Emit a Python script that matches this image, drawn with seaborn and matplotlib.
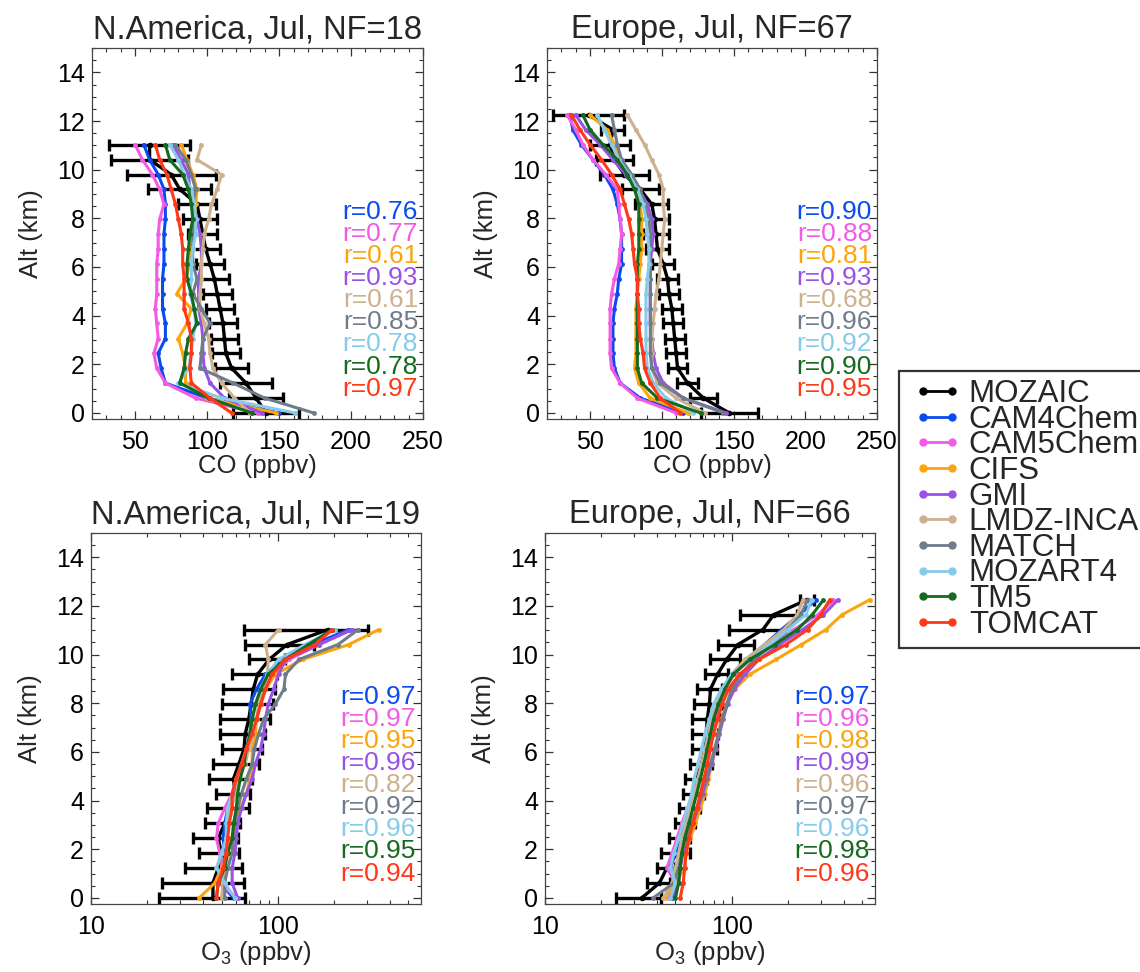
import numpy as np
import pandas as pd
import matplotlib
matplotlib.use("Agg")
import matplotlib.pyplot as plt
import seaborn as sns
from matplotlib.lines import Line2D
from matplotlib.legend_handler import HandlerLine2D
from matplotlib.ticker import MultipleLocator, FixedLocator, NullFormatter, FixedFormatter

# ---------------- data ----------------
MODELS = ["CAM4Chem", "CAM5Chem", "CIFS", "GMI", "LMDZ-INCA", "MATCH", "MOZART4", "TM5", "TOMCAT"]
COLORS = ["#0A4BF0", "#F35BE6", "#FBA40C", "#9852E6", "#CDB08E", "#6F7C8C", "#86CBEA", "#146A1E", "#FF3818"]

ALT_NA = [0.0, 0.61, 1.23, 1.84, 2.45, 3.06, 3.68, 4.29, 4.90, 5.51, 6.13, 6.74, 7.35, 7.96, 8.58, 9.19, 9.80, 10.41, 11.03]
ALT_EU = [0.0, 0.61, 1.23, 1.84, 2.45, 3.06, 3.68, 4.29, 4.90, 5.51, 6.13, 6.74, 7.35, 7.96, 8.58, 9.19, 9.80, 10.41, 11.03, 11.64, 12.25]

# CO, N.America
CO_NA_MOZAIC = [141, 134, 127, 117, 113, 112, 111, 109, 107, 105, 102, 99, 97, 95, 93, 81, 75, 60, 60]
CO_NA_MOZAIC_SD = [23, 19, 18, 11.5, 9.5, 9.5, 10, 10, 10, 10, 10, 10, 10, 12, 13, 22, 31, 27, 28]
CO_NA_CAM4 = [150, 100, 71, 68, 66, 71, 71, 69, 69, 69, 70, 70, 70, 71, 71, 70, 66, 60, 56]
CO_NA_CAM5 = [135, 92, 71, 65, 63, 66, 65, 64, 65, 65, 65, 66, 66, 67, 70, 67, 62, 55, 50]
CO_NA_CIFS = [148, 100, 85, 85, 83, 80, 86, 89, 79, 85, 88, 89, 90, 91, 92, 93, 90, 86, 82]
CO_NA_GMI = [138, 112, 102, 98, 97, 97, 96, 94, 94, 94, 96, 96, 95, 93, 90, 88, 87, 82, 76]
CO_NA_LMDZ = [130, 119, 110, 104, 102, 101, 98, 95, 95, 96, 96, 97, 98, 101, 103, 107, 110, 93, 96]
CO_NA_MATCH = [174, 140, 118, 95, 96, 97, 102, 96, 90, 93, 90, 90, 90, 90, 90, 92, 89, 85, 78]
CO_NA_MOZART4 = [161, 110, 80, 87, 89, 90, 92, 91, 88, 89, 89, 90, 92, 92, 91, 89, 84, 80, 74]
CO_NA_TM5 = [131, 101, 81, 84, 85, 87, 93, 91, 89, 86, 86, 87, 88, 90, 89, 87, 83, 74, 71]
CO_NA_TOMCAT = [117, 102, 89, 88, 89, 89, 87, 84, 84, 84, 83, 83, 82, 80, 78, 75, 72, 67, 64]
CO_NA_R = [0.76, 0.77, 0.61, 0.93, 0.61, 0.85, 0.78, 0.78, 0.97]

# CO, Europe
CO_EU_MOZAIC = [147, 129, 118, 111, 110, 109, 108, 107, 105, 104, 101, 97, 96, 95, 93, 85, 74, 67, 64, 66, 49]
CO_EU_MOZAIC_SD = [20, 9.3, 7.6, 6.4, 7, 7, 7, 7, 7, 7, 7.5, 8, 9, 10, 11.6, 13, 17, 12.8, 14, 8, 25]
CO_EU_CAM4 = [115, 85, 71, 67, 66, 66, 66, 67, 69, 70, 72, 72, 72, 71, 69, 66, 60, 52, 44, 38, 36]
CO_EU_CAM5 = [110, 83, 71, 65, 64, 64, 64, 64, 65, 67, 70, 71, 72, 71, 70, 69, 61, 52, 45, 40, 34]
CO_EU_CIFS = [118, 92, 84, 81, 82, 82, 82, 82, 83, 84, 85, 86, 86, 86, 85, 81, 77, 72, 67, 62, 50]
CO_EU_GMI = [145, 115, 101, 96, 94, 93, 92, 92, 92, 92, 92, 93, 94, 93, 90, 84, 75, 66, 57, 47, 40]
CO_EU_LMDZ = [130, 110, 97, 93, 93, 93, 94, 95, 96, 98, 99, 100, 101, 102, 101, 101, 98, 93, 88, 82, 76]
CO_EU_MATCH = [143, 115, 99, 93, 92, 92, 92, 92, 92, 92, 92, 92, 92, 91, 88, 85, 79, 72, 69, 67, 65]
CO_EU_MOZART4 = [122, 103, 94, 90, 89, 89, 89, 89, 89, 90, 91, 91, 90, 89, 87, 83, 77, 70, 65, 60, 55]
CO_EU_TM5 = [127, 97, 86, 83, 83, 83, 83, 83, 83, 83, 83, 84, 84, 84, 84, 81, 76, 69, 59, 50, 45]
CO_EU_TOMCAT = [113, 99, 92, 88, 87, 85, 84, 84, 83, 83, 81, 80, 79, 77, 74, 71, 65, 58, 50, 43, 37]
CO_EU_R = [0.90, 0.88, 0.81, 0.93, 0.68, 0.96, 0.92, 0.90, 0.95]

# O3, N.America
O3_NA_MOZAIC = [45, 45, 48, 50, 48, 52, 56, 59, 58, 62, 66, 67, 70, 72, 74, 78, 90, 112, 186]
O3_NA_MOZAIC_SD = [22, 21, 16, 12, 13, 11, 14, 12, 15, 17, 16, 18, 21, 22, 23, 21, 20, 45, 120]
O3_NA_CAM4 = [58, 49, 51, 52, 51, 52, 54, 58, 61, 64, 68, 71, 72, 71, 77, 86, 106, 154, 240]
O3_NA_CAM5 = [60, 49, 50, 49, 47, 48, 52, 57, 60, 65, 69, 74, 77, 81, 86, 95, 115, 166, 250]
O3_NA_CIFS = [38, 46, 50, 54, 57, 59, 63, 68, 71, 73, 73, 76, 77, 81, 86, 97, 136, 240, 348]
O3_NA_GMI = [61, 57, 57, 59, 60, 61, 64, 68, 73, 76, 81, 84, 86, 89, 95, 101, 110, 166, 250]
O3_NA_LMDZ = [50, 51, 52, 53, 53, 54, 56, 60, 62, 67, 70, 74, 77, 79, 84, 88, 89, 86, 101]
O3_NA_MATCH = [52, 52, 54, 57, 58, 59, 61, 64, 68, 73, 75, 79, 84, 97, 108, 110, 130, 210, 270]
O3_NA_MOZART4 = [59, 52, 47, 50, 53, 53, 54, 57, 60, 64, 68, 71, 73, 76, 81, 88, 101, 140, 203]
O3_NA_TM5 = [47, 48, 52, 54, 57, 58, 60, 61, 63, 66, 68, 71, 73, 76, 81, 89, 110, 146, 196]
O3_NA_TOMCAT = [47, 48, 51, 53, 54, 55, 57, 57, 60, 64, 68, 73, 77, 81, 86, 93, 110, 158, 196]
O3_NA_R = [0.97, 0.97, 0.95, 0.96, 0.82, 0.92, 0.96, 0.95, 0.94]

# O3, Europe
O3_EU_MOZAIC = [33, 41, 45, 51, 53, 57, 60, 63, 65, 69, 72, 73, 74, 76, 77, 84, 94, 108, 147, 168, 253]
O3_EU_MOZAIC_SD = [9, 6, 5, 9, 7, 7, 7.5, 7.8, 8.5, 9, 11, 12, 12.5, 13, 12, 12, 17, 23, 50, 57, 22]
O3_EU_CAM4 = [48, 51, 47, 50, 54, 58, 61, 64, 67, 71, 74, 77, 80, 84, 90, 100, 120, 150, 185, 230, 283]
O3_EU_CAM5 = [46, 50, 45, 48, 51, 54, 58, 62, 66, 71, 75, 78, 82, 86, 92, 103, 125, 160, 215, 290, 350]
O3_EU_CIFS = [44, 50, 56, 57, 60, 64, 68, 72, 75, 78, 82, 85, 88, 94, 104, 125, 173, 236, 320, 390, 547]
O3_EU_GMI = [47, 52, 53, 55, 58, 62, 66, 70, 74, 78, 82, 86, 90, 95, 103, 118, 140, 180, 240, 310, 370]
O3_EU_LMDZ = [43, 48, 50, 52, 54, 57, 60, 63, 66, 69, 72, 75, 78, 83, 90, 100, 118, 150, 190, 225, 240]
O3_EU_MATCH = [38, 49, 52, 54, 57, 61, 65, 69, 73, 77, 81, 85, 89, 94, 100, 112, 132, 165, 200, 235, 255]
O3_EU_MOZART4 = [47, 50, 47, 49, 52, 55, 58, 61, 63, 66, 69, 72, 76, 80, 88, 100, 125, 160, 200, 250, 268]
O3_EU_TM5 = [50, 52, 53, 54, 56, 59, 62, 65, 68, 71, 74, 77, 80, 85, 92, 102, 125, 170, 225, 270, 310]
O3_EU_TOMCAT = [53, 55, 56, 57, 59, 62, 65, 68, 71, 74, 77, 80, 84, 89, 96, 110, 140, 195, 255, 300, 335]
O3_EU_R = [0.97, 0.96, 0.98, 0.99, 0.96, 0.97, 0.96, 0.98, 0.96]

TITLES = ["N.America, Jul, NF=18", "Europe, Jul, NF=67", "N.America, Jul, NF=19", "Europe, Jul, NF=66"]

PANELS = [
    dict(title=TITLES[0], alt=ALT_NA, obs=CO_NA_MOZAIC, sd=CO_NA_MOZAIC_SD,
         models=[CO_NA_CAM4, CO_NA_CAM5, CO_NA_CIFS, CO_NA_GMI, CO_NA_LMDZ, CO_NA_MATCH, CO_NA_MOZART4, CO_NA_TM5, CO_NA_TOMCAT],
         r=CO_NA_R, species="CO", pos=[0.0807, 0.5689, 0.2904, 0.3817]),
    dict(title=TITLES[1], alt=ALT_EU, obs=CO_EU_MOZAIC, sd=CO_EU_MOZAIC_SD,
         models=[CO_EU_CAM4, CO_EU_CAM5, CO_EU_CIFS, CO_EU_GMI, CO_EU_LMDZ, CO_EU_MATCH, CO_EU_MOZART4, CO_EU_TM5, CO_EU_TOMCAT],
         r=CO_EU_R, species="CO", pos=[0.4798, 0.5689, 0.2895, 0.3817]),
    dict(title=TITLES[2], alt=ALT_NA, obs=O3_NA_MOZAIC, sd=O3_NA_MOZAIC_SD,
         models=[O3_NA_CAM4, O3_NA_CAM5, O3_NA_CIFS, O3_NA_GMI, O3_NA_LMDZ, O3_NA_MATCH, O3_NA_MOZART4, O3_NA_TM5, O3_NA_TOMCAT],
         r=O3_NA_R, species="O3", pos=[0.0798, 0.0700, 0.2895, 0.3817]),
    dict(title=TITLES[3], alt=ALT_EU, obs=O3_EU_MOZAIC, sd=O3_EU_MOZAIC_SD,
         models=[O3_EU_CAM4, O3_EU_CAM5, O3_EU_CIFS, O3_EU_GMI, O3_EU_LMDZ, O3_EU_MATCH, O3_EU_MOZART4, O3_EU_TM5, O3_EU_TOMCAT],
         r=O3_EU_R, species="O3", pos=[0.4780, 0.0700, 0.2895, 0.3817]),
]

# ---------------- style ----------------
sns.set_theme(style="ticks")
plt.rcParams["font.family"] = ["Liberation Sans", "DejaVu Sans"]
plt.rcParams["mathtext.fontset"] = "custom"
plt.rcParams["mathtext.rm"] = "Liberation Sans"
plt.rcParams["mathtext.it"] = "Liberation Sans:italic"
plt.rcParams["mathtext.default"] = "regular"

fig = plt.figure(figsize=(11.4, 9.72), dpi=100)

for p in PANELS:
    ax = fig.add_axes(p["pos"])
    rows = []
    for name, vals in zip(MODELS, p["models"]):
        for a, v in zip(p["alt"], vals):
            rows.append((name, a, v))
    df = pd.DataFrame(rows, columns=["model", "alt", "value"])

    ax.errorbar(p["obs"], p["alt"], xerr=p["sd"], color="black", lw=2.4,
                capsize=4.5, capthick=2.4, elinewidth=2.4, marker="o", ms=3, zorder=2)
    sns.lineplot(data=df, x="value", y="alt", hue="model", hue_order=MODELS,
                 palette=COLORS, sort=False, estimator=None, marker="o",
                 markersize=3.5, markeredgewidth=0, linewidth=2.2,
                 legend=False, ax=ax, zorder=3)

    ax.set_ylim(-0.25, 15.0)
    ax.yaxis.set_major_locator(MultipleLocator(2))
    ax.yaxis.set_minor_locator(MultipleLocator(0.5))
    if p["species"] == "CO":
        ax.set_xlim(20, 250)
        ax.xaxis.set_major_locator(MultipleLocator(50))
        ax.xaxis.set_minor_locator(MultipleLocator(10))
        ax.set_xlabel("CO (ppbv)", fontsize=18.5, labelpad=0)
    else:
        ax.set_xscale("log")
        ax.set_xlim(10, 585)
        ax.xaxis.set_major_locator(FixedLocator([10, 100]))
        ax.xaxis.set_major_formatter(FixedFormatter(["10", "100"]))
        ax.xaxis.set_minor_locator(FixedLocator([20, 30, 40, 50, 60, 70, 80, 90, 200, 300, 400, 500]))
        ax.xaxis.set_minor_formatter(NullFormatter())
        ax.set_xlabel("O$_3$ (ppbv)", fontsize=18.5, labelpad=0)
    ax.set_ylabel("Alt (km)", fontsize=18.5, labelpad=10)
    ax.tick_params(which="both", direction="in", top=True, right=True, colors="#333333",
                   labelcolor="black", labelsize=18)
    ax.tick_params(which="major", length=6, width=0.9)
    ax.tick_params(which="minor", length=3, width=0.8)
    ax.tick_params(axis="x", pad=8)
    ax.tick_params(axis="y", pad=5)
    for s in ax.spines.values():
        s.set_linewidth(0.9)
        s.set_color("#444444")
    ax.set_title(p["title"], fontsize=23.5, pad=7)

    for i, (rv, c) in enumerate(zip(p["r"], COLORS)):
        ax.text(0.985, 0.558 - i * 0.0595, f"r={rv:.2f}", color=c, fontsize=19,
                ha="right", va="center", transform=ax.transAxes, zorder=5)

handles = [Line2D([0], [0], color="black", lw=2, marker="o", ms=5)]
handles += [Line2D([0], [0], color=c, lw=2, marker="o", ms=5) for c in COLORS]
labels = ["MOZAIC"] + MODELS
leg = fig.legend(handles, labels, loc="upper left", bbox_to_anchor=(0.789, 0.618),
                 frameon=True, fancybox=False, edgecolor="black", fontsize=22.5,
                 labelspacing=-0.14, handlelength=1.92, handletextpad=0.05,
                 borderpad=0.25, numpoints=2, borderaxespad=0,
                 handler_map={Line2D: HandlerLine2D(marker_pad=0.49, numpoints=2)})
leg.get_frame().set_linewidth(1.6)

fig.savefig("out.png", dpi=100)
